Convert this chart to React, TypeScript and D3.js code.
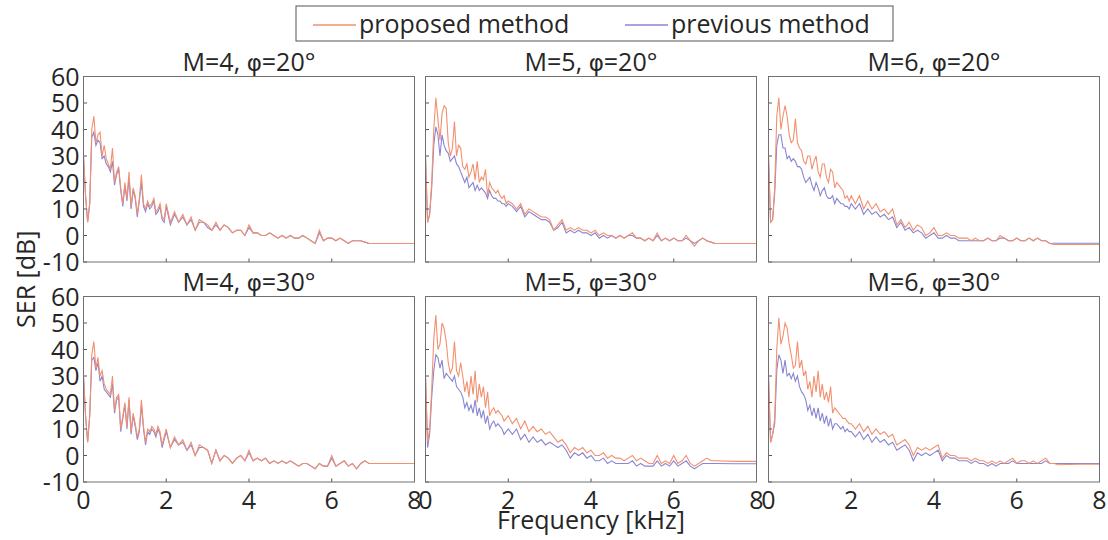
import React from 'react';
import * as d3 from 'd3';

// Frequency grid [kHz]
const FREQ = [
  0, 0.05, 0.1, 0.15, 0.2, 0.25, 0.3, 0.35, 0.4, 0.45, 0.5, 0.55, 0.6, 0.65, 0.7, 0.75, 0.8, 0.85, 0.9, 0.95,
  1, 1.05, 1.1, 1.15, 1.2, 1.25, 1.3, 1.35, 1.4, 1.45, 1.5, 1.55, 1.6, 1.65, 1.7, 1.75, 1.8, 1.85, 1.9, 1.95, 2,
  2.1, 2.2, 2.3, 2.4, 2.5, 2.6, 2.7, 2.8, 2.9, 3,
  3.1, 3.2, 3.3, 3.4, 3.5, 3.6, 3.7, 3.8, 3.9, 4,
  4.1, 4.2, 4.3, 4.4, 4.5, 4.6, 4.7, 4.8, 4.9, 5,
  5.1, 5.2, 5.3, 5.4, 5.5, 5.6, 5.7, 5.8, 5.9, 6,
  6.1, 6.2, 6.3, 6.4, 6.5, 6.6, 6.7, 6.8, 6.9, 7,
  7.5, 8,
];

// M=4, phi=20
const PROPOSED_M4_P20 = [
  30, 15, 5, 12, 40, 45, 35, 38, 39, 30, 34, 29, 27, 25, 33, 20, 24, 26, 18, 12,
  20, 14, 24, 11, 18, 15, 8, 14, 23, 12, 10, 13, 11, 12, 14, 9, 10, 12, 7, 6, 12,
  5, 9, 5, 8, 4, 7, 2, 6, 5, 4,
  2, 5, 2, 4, 3, 1, 2, 2, 0, 4,
  1, 1, 0, 0, 1, 0, -1, 0, -1, 0,
  -1, -1, 0, -1, -2, -3, 2, -2, -1, -1,
  -2, -1, -2, -3, -2, -2, -2, -2.5, -3, -3,
  -3, -3,
];
const PREVIOUS_M4_P20 = [
  30, 15, 5, 12, 37, 39, 34, 36, 35, 29, 30, 27, 26, 24, 28, 19, 23, 25, 17, 11,
  19, 13, 22, 10, 17, 14, 7, 13, 20, 11, 9, 12, 10, 11, 13, 8, 9, 11, 6, 5, 11,
  4, 8, 5, 7, 4, 6, 2, 5, 5, 3,
  2, 4, 2, 4, 3, 1, 2, 2, 0, 3,
  1, 1, 0, 0, 1, 0, -1, 0, -1, 0,
  -1, -1, 0, -1, -2, -3, 1, -2, -1, -1,
  -2, -1, -2, -3, -2, -2, -2, -2.5, -3, -3,
  -3, -3,
];

// M=5, phi=20
const PROPOSED_M5_P20 = [
  30, 5, 8, 20, 40, 52, 44, 36, 46, 49, 48, 35, 30, 33, 43, 30, 34, 33, 26, 25,
  27, 22, 24, 27, 21, 28, 20, 22, 21, 25, 15, 20, 18, 17, 16, 17, 15, 14, 15, 12, 13,
  12, 10, 12, 8, 10, 9, 8, 7, 7, 6,
  2, 4, 6, 2, 3, 2, 3, 2, 2, 1,
  2, 0, 1, 0, 0, -1, 0, -1, 0, 1,
  -1, -1, -2, -1, -2, 1, -2, -1, -2, -1,
  -2, -2, 0, -2, -4, -2, -1, -2, -2.5, -3,
  -3, -3,
];
const PREVIOUS_M5_P20 = [
  30, 5, 8, 18, 34, 41, 38, 30, 38, 34, 32, 31, 28, 29, 30, 27, 26, 24, 22, 20,
  22, 18, 19, 20, 17, 19, 17, 18, 17, 16, 14, 17, 15, 14, 14, 13, 13, 12, 12, 11, 12,
  11, 9, 11, 7, 9, 8, 7, 6, 6, 5,
  2, 3, 5, 1, 2, 1, 2, 1, 1, 0,
  1, -1, 0, -1, 0, -1, 0, -1, 0, 0,
  -1, -1, -2, -1, -2, 0, -2, -1, -2, -1,
  -2, -2, -1, -2, -3, -2, -1, -2, -2.5, -3,
  -3, -3,
];

// M=6, phi=20
const PROPOSED_M6_P20 = [
  30, 5, 6, 18, 45, 52, 40, 45, 49, 45, 38, 35, 36, 44, 35, 33, 32, 28, 27, 30,
  30, 25, 28, 30, 24, 22, 27, 27, 22, 20, 25, 24, 18, 20, 19, 18, 17, 14, 15, 13, 15,
  12, 15, 10, 13, 10, 12, 9, 10, 8, 10,
  4, 6, 3, 5, 2, 4, 3, 0, 1, 3,
  0, 0, 1, 0, 0, -1, -1, -1, -2, -1,
  -2, -2, -1, -2, -2, 0, -1, -2, -2, -1,
  -2, -2, -1, -2, -1, -2, -2, -3, -3.4, -3.4,
  -3.4, -3.4,
];
const PREVIOUS_M6_P20 = [
  30, 5, 6, 16, 34, 38, 38, 33, 33, 29, 30, 28, 29, 28, 26, 26, 25, 22, 20, 21,
  22, 19, 17, 20, 18, 15, 17, 18, 15, 14, 14, 15, 12, 14, 13, 12, 12, 11, 11, 10, 12,
  10, 12, 8, 10, 8, 9, 7, 8, 6, 7,
  3, 5, 2, 3, 1, 2, 1, -1, 0, 1,
  -1, -1, 0, -1, -1, -2, -2, -2, -2, -2,
  -2, -2, -1, -2, -2, -1, -1, -2, -2, -1,
  -2, -2, -1, -2, -1, -2, -2, -3, -2.9, -2.9,
  -2.9, -2.9,
];

// M=4, phi=30
const PROPOSED_M4_P30 = [
  30, 15, 5, 15, 38, 43, 33, 37, 30, 32, 27, 25, 24, 23, 30, 17, 22, 23, 10, 15,
  20, 11, 22, 9, 16, 12, 7, 10, 21, 11, 5, 10, 9, 11, 10, 8, 11, 9, 4, 7, 10,
  3, 7, 4, 6, 2, 5, 0, 4, 3, 2,
  -3, 2, -2, 0, -1, -3, -1, 0, -2, 2,
  -2, -1, -2, -1, -3, -2, -3, -2, -3, -2,
  -3, -4, -3, -3, -4, -5, -3, -4, -4, 0,
  -4, -3, -2, -4, -3, -5, -3, -2, -3, -3,
  -3, -3,
];
const PREVIOUS_M4_P30 = [
  30, 15, 5, 15, 36, 37, 32, 35, 28, 30, 25, 24, 23, 22, 27, 16, 21, 22, 9, 14,
  19, 10, 21, 8, 15, 11, 6, 9, 19, 10, 4, 9, 8, 10, 9, 7, 10, 8, 3, 6, 9,
  3, 6, 4, 5, 2, 4, 0, 3, 3, 2,
  -3, 2, -2, 0, -1, -3, -1, 0, -2, 1,
  -2, -1, -2, -1, -3, -2, -3, -2, -3, -2,
  -3, -4, -3, -3, -4, -5, -3, -4, -4, -1,
  -4, -3, -2, -4, -3, -5, -3, -2, -3, -3,
  -3, -3,
];

// M=5, phi=30
const PROPOSED_M5_P30 = [
  30, 5, 10, 25, 44, 53, 40, 42, 50, 48, 43, 35, 31, 33, 43, 32, 30, 35, 30, 24,
  28, 22, 30, 23, 32, 20, 27, 22, 26, 18, 24, 15, 17, 18, 16, 17, 16, 15, 13, 14, 15,
  12, 14, 10, 13, 9, 11, 9, 10, 8, 9,
  7, 5, 6, 4, 1, 3, 2, 3, 1, 2,
  0, 0, 1, -1, 0, -1, -1, -2, -1, 0,
  -2, -1, -2, -3, -3, 0, -3, -2, -3, 0,
  -3, -2, 0, -3, -4, -3, -2, -1, -2, -2,
  -2.2, -2.2,
];
const PREVIOUS_M5_P30 = [
  30, 3, 8, 22, 32, 38, 37, 33, 36, 29, 31, 30, 29, 28, 30, 26, 25, 24, 22, 18,
  20, 17, 19, 16, 21, 15, 18, 14, 17, 12, 15, 10, 12, 13, 11, 12, 11, 10, 8, 9, 10,
  8, 10, 6, 8, 5, 7, 5, 6, 4, 5,
  4, 3, 4, 2, -1, 1, 0, 1, -1, 0,
  -2, -2, -1, -3, -2, -3, -3, -3, -3, -2,
  -4, -3, -4, -4, -4, -2, -4, -3, -4, -2,
  -4, -3, -2, -4, -5, -4, -3, -3, -3, -3,
  -3.1, -3.1,
];

// M=6, phi=30
const PROPOSED_M6_P30 = [
  30, 5, 8, 14, 40, 52, 42, 45, 50, 48, 42, 38, 33, 34, 43, 33, 36, 30, 32, 25,
  28, 22, 30, 24, 32, 22, 27, 21, 24, 20, 26, 16, 18, 17, 16, 15, 14, 14, 13, 12, 12,
  10, 12, 9, 11, 8, 10, 8, 9, 7, 8,
  4, 5, 6, 4, 0, 3, 2, 3, 2, 3,
  4, -1, 1, 0, 0, -1, -1, -1, -2, -1,
  -2, -2, -3, -2, -3, -2, -3, -2, -1, -3,
  -2, -2, -3, -2, -3, -2, -1, -3, -3, -3.5,
  -3.3, -3.3,
];
const PREVIOUS_M6_P30 = [
  30, 5, 8, 12, 32, 38, 36, 31, 36, 30, 31, 29, 31, 28, 30, 26, 24, 23, 21, 17,
  19, 15, 18, 14, 18, 13, 16, 12, 15, 11, 14, 10, 12, 12, 11, 10, 11, 9, 10, 9, 9,
  7, 9, 6, 8, 5, 7, 5, 6, 4, 5,
  2, 3, 4, 2, -2, 1, 0, 1, 0, 1,
  2, -2, 0, -1, -1, -2, -2, -2, -3, -2,
  -3, -3, -4, -3, -4, -3, -3, -3, -2, -3,
  -3, -3, -3, -3, -3, -3, -2, -3, -3, -3,
  -3, -3,
];

const M_VALUES = [4, 5, 6];
const PHI_VALUES = [20, 30];
const X_TICKS = [0, 2, 4, 6, 8];
const Y_TICKS = [-10, 0, 10, 20, 30, 40, 50, 60];
const LEGEND_LABELS = ['proposed method', 'previous method'];

const PROPOSED = [
  [PROPOSED_M4_P20, PROPOSED_M5_P20, PROPOSED_M6_P20],
  [PROPOSED_M4_P30, PROPOSED_M5_P30, PROPOSED_M6_P30],
];
const PREVIOUS = [
  [PREVIOUS_M4_P20, PREVIOUS_M5_P20, PREVIOUS_M6_P20],
  [PREVIOUS_M4_P30, PREVIOUS_M5_P30, PREVIOUS_M6_P30],
];

const W = 1108;
const H = 540;
const PANEL_X = [83.5, 425.5, 768.5];
const PANEL_Y = [76.5, 296.5];
const PW = 331;
const PH = 185.5;
const C_PROP = '#F2906F';
const C_PREV = '#8A86D2';
const TXT = '#262626';
const FONT = '"Open Sans", "Noto Sans", sans-serif';

export default function App() {
  const x = d3.scaleLinear().domain([0, 8]).range([0, PW]);
  const y = d3.scaleLinear().domain([-10, 60]).range([PH, 0]);
  const line = d3
    .line<number>()
    .x((_, i) => x(FREQ[i]))
    .y((d) => y(d));

  return (
    <svg width={W} height={H} style={{ position: 'absolute', left: 0, top: 0, background: '#fff' }} fontFamily={FONT}>
      <defs>
        <clipPath id="pclip">
          <rect x={0} y={0} width={PW} height={PH} />
        </clipPath>
      </defs>
      {PHI_VALUES.map((phi, r) =>
        M_VALUES.map((m, c) => {
          const ox = PANEL_X[c];
          const oy = PANEL_Y[r];
          return (
            <g key={`${r}-${c}`} transform={`translate(${ox},${oy})`}>
              <text x={PW / 2} y={-6} textAnchor="middle" fontSize={25} fill={TXT}>
                {`M=${m}, `}
                <tspan fontFamily='"DejaVu Sans", sans-serif' fontSize={23}>φ</tspan>
                {`=${phi}°`}
              </text>
              <g clipPath="url(#pclip)">
                <path d={line(PREVIOUS[r][c]) || ''} fill="none" stroke={C_PREV} strokeWidth={1.1} />
                <path d={line(PROPOSED[r][c]) || ''} fill="none" stroke={C_PROP} strokeWidth={1.1} />
              </g>
              {Y_TICKS.map((t) => (
                <line key={`yt${t}`} x1={0} x2={3.5} y1={y(t)} y2={y(t)} stroke="#555" strokeWidth={1} />
              ))}
              {X_TICKS.map((t) => (
                <line key={`xt${t}`} x1={x(t)} x2={x(t)} y1={PH} y2={PH - 3.5} stroke="#555" strokeWidth={1} />
              ))}
              <rect x={0} y={0} width={PW} height={PH} fill="none" stroke="#707070" strokeWidth={1} />
              {c === 0 &&
                Y_TICKS.map((t) => (
                  <text key={`yl${t}`} x={-4} y={y(t)} dy="0.36em" textAnchor="end" fontSize={25} fill={TXT}>
                    {t}
                  </text>
                ))}
              {r === 1 &&
                X_TICKS.map((t) => (
                  <text key={`xl${t}`} x={x(t)} y={PH + 27} textAnchor="middle" fontSize={25} fill={TXT}>
                    {t}
                  </text>
                ))}
            </g>
          );
        })
      )}
      <text
        transform={`translate(35,${(PANEL_Y[0] + PANEL_Y[1] + PH) / 2}) rotate(-90)`}
        textAnchor="middle"
        fontSize={25}
        fill={TXT}
      >
        SER [dB]
      </text>
      <text x={PANEL_X[1] + PW / 2} y={529} textAnchor="middle" fontSize={25} fill={TXT}>
        Frequency [kHz]
      </text>
      <g>
        <rect x={296} y={6} width={597} height={35} fill="#fff" stroke="#555" strokeWidth={1} />
        <line x1={313} x2={356} y1={25} y2={25} stroke={C_PROP} strokeWidth={1.5} />
        <text x={359} y={33} fontSize={25} fill={TXT}>
          {LEGEND_LABELS[0]}
        </text>
        <line x1={625} x2={668} y1={25} y2={25} stroke={C_PREV} strokeWidth={1.5} />
        <text x={671} y={33} fontSize={25} fill={TXT}>
          {LEGEND_LABELS[1]}
        </text>
      </g>
    </svg>
  );
}
